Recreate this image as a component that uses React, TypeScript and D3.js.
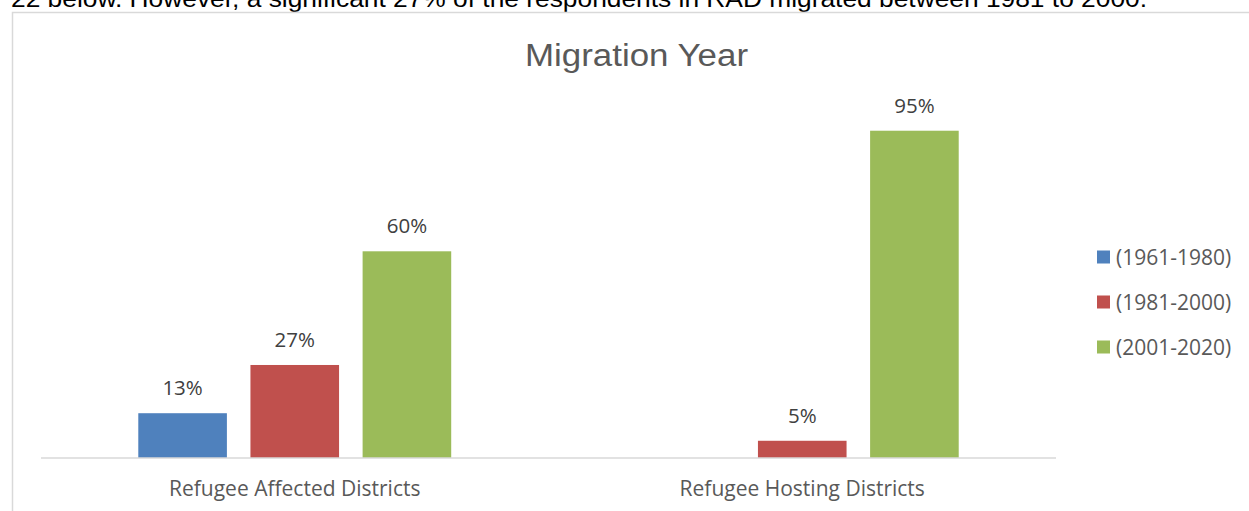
import React from "react";
import * as d3 from "d3";

const categories = ["Refugee Affected Districts", "Refugee Hosting Districts"];
const seriesNames = ["(1961-1980)", "(1981-2000)", "(2001-2020)"];
const s1961: (number | null)[] = [13, null];
const s1981: (number | null)[] = [27, 5];
const s2001: (number | null)[] = [60, 95];
const seriesColors = ["#4f81bd", "#c0504d", "#9bbb59"];
const titleText = "Migration Year";
const paragraphText =
  "22 below. However, a significant 27% of the respondents in RAD migrated between 1981 to 2000.";

const W = 1249;
const H = 511;
const FONT = "'Open Sans', sans-serif";

export default function App() {
  const seriesValues = [s1961, s1981, s2001];
  const plotLeft = 41;
  const plotRight = 1056;
  const baseY = 458;
  const x0 = d3.scaleBand<string>().domain(categories).range([plotLeft, plotRight]).padding(0);
  const cw = x0.bandwidth();
  const outer = cw * 0.1917;
  const x1 = d3
    .scaleBand<string>()
    .domain(seriesNames)
    .range([outer, cw - outer])
    .paddingInner(0.21)
    .paddingOuter(0);
  const y = d3.scaleLinear().domain([0, 100]).range([baseY, 113.5]);

  return (
    <svg
      width={W}
      height={H}
      style={{ position: "absolute", left: 0, top: 0, background: "#fff" }}
    >
      <rect x={0} y={0} width={W} height={H} fill="#fff" />
      <text
        x={11}
        y={7}
        fontFamily="'Liberation Sans', Arial, sans-serif"
        fontSize={24}
        fill="#000"
        textLength={1136}
        lengthAdjust="spacingAndGlyphs"
      >
        {paragraphText}
      </text>
      <rect x={12.5} y={12.5} width={1400} height={700} fill="none" stroke="#d9d9d9" strokeWidth={1.5} />
      <text
        x={636.5}
        y={66}
        textAnchor="middle"
        fontFamily="'Liberation Sans', Arial, sans-serif"
        fontSize={31}
        fill="#595959"
        textLength={223}
        lengthAdjust="spacingAndGlyphs"
      >
        {titleText}
      </text>
      {seriesValues.map((vals, si) =>
        vals.map((v, ci) => {
          if (v == null) return null;
          const bx = (x0(categories[ci]) as number) + (x1(seriesNames[si]) as number);
          const bw = x1.bandwidth();
          return (
            <g key={`${si}-${ci}`}>
              <rect x={bx} y={y(v)} width={bw} height={baseY - y(v)} fill={seriesColors[si]} />
              <text
                x={bx + bw / 2}
                y={y(v) - 18}
                textAnchor="middle"
                fontFamily={FONT}
                fontSize={20.5}
                fill="#404040"
              >
                {`${v}%`}
              </text>
            </g>
          );
        })
      )}
      <line x1={plotLeft} x2={plotRight} y1={baseY} y2={baseY} stroke="#d9d9d9" strokeWidth={1.5} />
      {categories.map((c) => (
        <text
          key={c}
          x={(x0(c) as number) + cw / 2}
          y={496}
          textAnchor="middle"
          fontFamily={FONT}
          fontSize={21}
          fill="#595959"
        >
          {c}
        </text>
      ))}
      {seriesNames.map((s, i) => {
        const cy = 257 + i * 45;
        return (
          <g key={s}>
            <rect x={1097} y={cy - 6.5} width={13} height={13} fill={seriesColors[i]} />
            <text x={1116} y={cy + 7.5} fontFamily={FONT} fontSize={21} fill="#595959">
              {s}
            </text>
          </g>
        );
      })}
    </svg>
  );
}
